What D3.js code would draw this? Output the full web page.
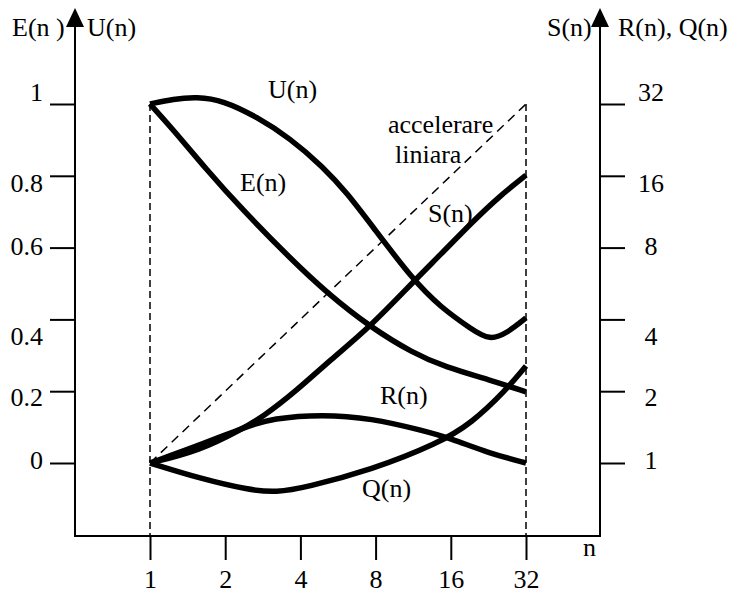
<!DOCTYPE html>
<html>
<head>
<meta charset="utf-8">
<script src="https://cdn.jsdelivr.net/npm/d3@7"></script>
</head>
<body style="margin:0">
<svg id="chart" width="733" height="596"></svg>
<script>
// n values on the horizontal axis
const nTicks = [1, 2, 4, 8, 16, 32];
const leftTicks = [0, 0.2, 0.4, 0.6, 0.8, 1];
const leftLabels = ["0", "0.2", "0.4", "0.6", "0.8", "1"];
const rightTicks = [1, 2, 4, 8, 16, 32];

// U(n), E(n) -> left axis
const uN = [1, 1.24, 1.54, 1.96, 2.68, 3.63, 4.93, 6.15, 7.81, 11.3, 14.5, 19.6, 22.9, 26.9, 32];
const uV = [1.0, 1.014, 1.02, 1.01, 0.964, 0.905, 0.825, 0.752, 0.657, 0.51, 0.435, 0.37, 0.342, 0.362, 0.404];
const eN = [1, 1.24, 1.69, 2.29, 3.7, 5.11, 7.6, 11.3, 15.2, 23, 32];
const eV = [1.0, 0.928, 0.816, 0.713, 0.565, 0.474, 0.379, 0.306, 0.267, 0.231, 0.198];

// S(n), R(n), Q(n) -> right axis (log2)
const sN = [1, 1.59, 2.29, 2.83, 3.88, 5.26, 7.6, 11.3, 14.5, 19.6, 25.2, 32];
const sV = [1, 1.13, 1.375, 1.56, 2.02, 2.7, 3.72, 5.74, 7.45, 10.3, 13.2, 16.1];
const rN = [1, 1.59, 2.42, 3.1, 4.88, 7.7, 12.3, 15.9, 22.7, 32];
const rV = [1, 1.19, 1.42, 1.54, 1.6, 1.54, 1.37, 1.27, 1.10, 1.0];
const qN = [1, 1.59, 2.5, 3.2, 4.2, 7.7, 14.3, 19.4, 26.6, 32];
const qV = [1, 0.86, 0.77, 0.752, 0.79, 0.935, 1.21, 1.47, 2.02, 2.55];

// linear speedup reference
const linN = [1, 32];
const linV = [1, 32];

const axL = 75, axR = 600, axBottom = 536, axTop = 8;
const FONT = "Times New Roman";

const svg = d3.select("#chart");

const x = d3.scaleLog().base(2).domain([1, 32]).range([150, 526]);
const yL = d3.scaleLinear().domain([0, 1]).range([463, 104]);
const yR = d3.scaleLog().base(2).domain([1, 32]).range([463, 104]);

// label baseline shifts, per tick from bottom to top
const labelShift = [5, 14, 25, 7, 16, -4];

// frame lines
svg.append("path")
  .attr("d", `M${axL},${axTop + 14}V${axBottom}H${axR}V${axTop + 14}`)
  .attr("fill", "none").attr("stroke", "#000").attr("stroke-width", 2);

// arrow heads
[axL, axR].forEach(ax => {
  svg.append("path")
    .attr("d", `M${ax},${axTop}L${ax - 9},${axTop + 19}L${ax + 9},${axTop + 19}Z`)
    .attr("fill", "#000");
});

function styleTicks(g) {
  g.attr("font-family", FONT).attr("font-size", 26);
  g.select(".domain").remove();
  g.selectAll(".tick line").attr("stroke-width", 2);
  g.selectAll(".tick text").attr("fill", "#000");
}

// left axis
const gl = svg.append("g").attr("transform", `translate(${axL},0)`)
  .call(d3.axisLeft(yL).tickValues(leftTicks).tickSize(25).tickPadding(7)
    .tickFormat((d, i) => leftLabels[i]));
styleTicks(gl);
gl.selectAll(".tick text").attr("dy", (d, i) => labelShift[i]);

// right axis
const gr = svg.append("g").attr("transform", `translate(${axR},0)`)
  .call(d3.axisRight(yR).tickValues(rightTicks).tickSize(25).tickFormat(d3.format("d")));
styleTicks(gr);
gr.selectAll(".tick text").attr("x", 51).attr("text-anchor", "middle")
  .attr("dy", (d, i) => labelShift[i]);

// bottom axis
const gb = svg.append("g").attr("transform", `translate(0,${axBottom})`)
  .call(d3.axisBottom(x).tickValues(nTicks).tickSize(24).tickFormat(d3.format("d")));
styleTicks(gb);
gb.selectAll(".tick text").attr("y", 52).attr("dy", 0);

// dashed verticals at n = 1 and n = 32
[1, 32].forEach(n => {
  svg.append("line")
    .attr("x1", x(n)).attr("x2", x(n))
    .attr("y1", yR(32)).attr("y2", axBottom)
    .attr("stroke", "#000").attr("stroke-width", 1.5).attr("stroke-dasharray", "7,4");
});

// linear acceleration line
svg.append("path")
  .attr("d", d3.line().x(d => x(d[0])).y(d => yR(d[1]))(linN.map((n, i) => [n, linV[i]])))
  .attr("fill", "none").attr("stroke", "#000").attr("stroke-width", 1.5)
  .attr("stroke-dasharray", "9,6");

function drawCurve(ns, vs, yScale) {
  const line = d3.line().x(d => x(d[0])).y(d => yScale(d[1])).curve(d3.curveBasis);
  svg.append("path")
    .attr("d", line(ns.map((n, i) => [n, vs[i]])))
    .attr("fill", "none").attr("stroke", "#000").attr("stroke-width", 5.5)
    .attr("stroke-linejoin", "round");
}

drawCurve(uN, uV, yL);
drawCurve(eN, eV, yL);
drawCurve(sN, sV, yR);
drawCurve(rN, rV, yR);
drawCurve(qN, qV, yR);

// text labels
const labels = [
  ["E(n )", 12, 36], ["U(n)", 87, 36], ["S(n)", 547, 36], ["R(n), Q(n)", 618, 36],
  ["U(n)", 268, 98], ["accelerare", 388, 133], ["liniara", 395, 163],
  ["E(n)", 240, 191], ["S(n)", 428, 222], ["R(n)", 380, 404], ["Q(n)", 362, 497],
  ["n", 583, 556]
];
svg.selectAll("text.lbl")
  .data(labels)
  .enter()
  .append("text")
  .attr("class", "lbl")
  .attr("x", d => d[1])
  .attr("y", d => d[2])
  .attr("font-family", FONT)
  .attr("font-size", 26)
  .attr("fill", "#000")
  .text(d => d[0]);
</script>
</body>
</html>
